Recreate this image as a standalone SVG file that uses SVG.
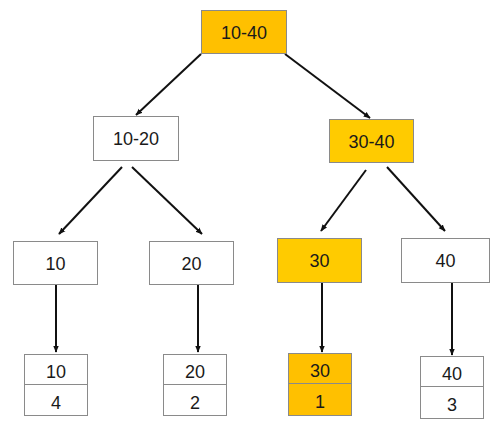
<svg xmlns="http://www.w3.org/2000/svg" width="501" height="429" viewBox="0 0 501 429">
<style>
.b{stroke:#8a8a8a;stroke-width:1;}
.w{fill:#ffffff;}
.o{fill:#ffc000;}
.y{fill:#ffcb00;}
.t{font-family:"Liberation Sans",Arial,sans-serif;font-size:18px;fill:#1a1a1a;text-anchor:middle;}
.c line{stroke:#111;stroke-width:2;marker-end:url(#ah);}
</style>
<defs>
<marker id="ah" viewBox="0 0 10 10" refX="9" refY="5" markerWidth="3.5" markerHeight="3.5" orient="auto" markerUnits="strokeWidth">
<path d="M0,1 L10,5 L0,9 z" fill="#111"/>
</marker>
</defs>
<rect width="501" height="429" fill="#ffffff"/>
<g class="c">
<line x1="201" y1="54" x2="136" y2="115"/>
<line x1="285" y1="54" x2="370" y2="118"/>
<line x1="122" y1="167" x2="59" y2="234"/>
<line x1="132" y1="167" x2="202" y2="234"/>
<line x1="366" y1="170" x2="321" y2="231"/>
<line x1="387" y1="167" x2="445" y2="231"/>
<line x1="56" y1="284" x2="56" y2="352"/>
<line x1="198" y1="284" x2="198" y2="352"/>
<line x1="322" y1="282" x2="322" y2="352"/>
<line x1="452" y1="282" x2="452" y2="355"/>
</g>
<g id="n1040"><rect class="b o" x="201.5" y="10.5" width="85" height="43"/><text class="t" x="244" y="39">10-40</text></g>
<g id="n1020"><rect class="b w" x="93.5" y="116.5" width="85" height="44"/><text class="t" x="136" y="145">10-20</text></g>
<g id="n3040"><rect class="b y" x="329.5" y="119.5" width="84" height="43"/><text class="t" x="371.5" y="147.5">30-40</text></g>
<g id="n10"><rect class="b w" x="13.5" y="241.5" width="84" height="43"/><text class="t" x="55.5" y="269.5">10</text></g>
<g id="n20"><rect class="b w" x="149.5" y="241.5" width="84" height="43"/><text class="t" x="191.5" y="269.5">20</text></g>
<g id="n30"><rect class="b y" x="277.5" y="238.5" width="84" height="44"/><text class="t" x="319.5" y="267">30</text></g>
<g id="n40"><rect class="b w" x="401.5" y="238.5" width="88" height="44"/><text class="t" x="445.5" y="267">40</text></g>
<g id="l10"><rect class="b w" x="24.5" y="354.5" width="63" height="61"/><line class="b" x1="24.5" y1="384.5" x2="87.5" y2="384.5"/><text class="t" x="56" y="377.5">10</text><text class="t" x="56" y="408.5">4</text></g>
<g id="l20"><rect class="b w" x="163.5" y="354.5" width="63" height="61"/><line class="b" x1="163.5" y1="384.5" x2="226.5" y2="384.5"/><text class="t" x="195" y="377.5">20</text><text class="t" x="195" y="408.5">2</text></g>
<g id="l30"><rect class="b o" x="288.5" y="353.5" width="63" height="62"/><line class="b" x1="288.5" y1="383.5" x2="351.5" y2="383.5"/><text class="t" x="320" y="376.5">30</text><text class="t" x="320" y="407.5">1</text></g>
<g id="l40"><rect class="b w" x="420.5" y="356.5" width="63" height="62"/><line class="b" x1="420.5" y1="386.5" x2="483.5" y2="386.5"/><text class="t" x="452" y="379.5">40</text><text class="t" x="452" y="410.5">3</text></g>
</svg>
